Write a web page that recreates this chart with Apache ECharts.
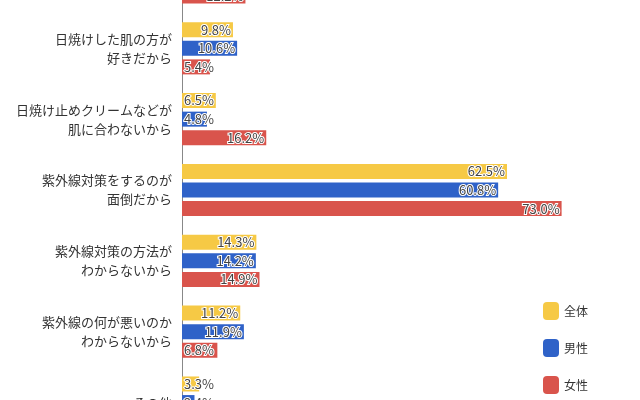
<!DOCTYPE html>
<html><head><meta charset="utf-8">
<script src="https://cdn.jsdelivr.net/npm/echarts@6/dist/echarts.min.js"></script>
<style>html,body{margin:0;padding:0;background:#fff;overflow:hidden;width:640px;height:400px}#c{position:absolute;left:0;top:-58px;width:720px;height:496px}</style>
</head><body><div id="c"></div>
<script>
const categories = ['日焼けしても\n気にならないから','日焼けした肌の方が\n好きだから','日焼け止めクリームなどが\n肌に合わないから','紫外線対策をするのが\n面倒だから','紫外線対策の方法が\nわからないから','紫外線の何が悪いのか\nわからないから','その他'];
const seriesNames = ['全体','男性','女性'];
const allValues = [15.0, 9.8, 6.5, 62.5, 14.3, 11.2, 3.3];
const maleValues = [17.5, 10.6, 4.8, 60.8, 14.2, 11.9, 2.4];
const femaleValues = [12.2, 5.4, 16.2, 73.0, 14.9, 6.8, 4.3];
const colors = ['#f6c945','#2f62c8','#d9544c'];
const chart = echarts.init(document.getElementById('c'));
function mk(name, vals, color){
  return {name, type:'bar', barWidth:15, barGap:'24%', itemStyle:{color},
    data: vals.map(v=>({value:v, label:{position: v<8?'insideLeft':'insideRight', distance:2}})),
    label:{show:true, formatter:p=>p.value.toFixed(1)+'%', color:'#444', fontSize:13, fontFamily:'Noto Sans CJK JP', textBorderColor:'#fff', textBorderWidth:2}};
}
chart.setOption({
  animation:false,
  grid:{left:182, top:0, width:520, height:496, containLabel:false},
  xAxis:{type:'value', min:0, max:100, show:false},
  yAxis:{type:'category', data:categories, inverse:true,
    axisLine:{lineStyle:{color:'#888'}}, axisTick:{show:false},
    axisLabel:{color:'#333', fontSize:13, lineHeight:19, margin:10, fontFamily:'Noto Sans CJK JP'}},
  legend:{orient:'vertical', left:538, top:355, itemWidth:16, itemHeight:18, itemGap:19,
    textStyle:{color:'#333', fontSize:12, fontFamily:'Noto Sans CJK JP'}, data:seriesNames},
  series:[mk(seriesNames[0],allValues,colors[0]), mk(seriesNames[1],maleValues,colors[1]), mk(seriesNames[2],femaleValues,colors[2])]
});
</script></body></html>
